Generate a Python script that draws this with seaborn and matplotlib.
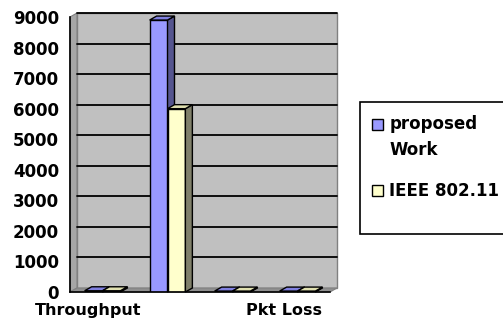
import matplotlib
matplotlib.use('Agg')
import matplotlib.pyplot as plt
import matplotlib.transforms as mtrans
from matplotlib.patches import Polygon, Rectangle
import seaborn as sns
import pandas as pd

# Values
categories = ['Throughput', 'Delay', 'PDR', 'Pkt Loss']
tick_labels = ['Throughput', '', '', 'Pkt Loss']
proposed = [40, 8900, 30, 30]
ieee = [40, 6000, 30, 30]
series = ['proposed\nWork', 'IEEE 802.11']
y_ticks = [0, 1000, 2000, 3000, 4000, 5000, 6000, 7000, 8000, 9000]

front_colors = ['#9999FF', '#FFFFCC']
side_colors = ['#55558F', '#80806A']
top_colors = ['#8080E0', '#E0E0B0']

df = pd.DataFrame({
    'category': categories * 2,
    'value': proposed + ieee,
    'series': [series[0]] * len(categories) + [series[1]] * len(categories),
})

sns.set_style('white')
plt.rcParams['font.family'] = ['DejaVu Sans']
plt.rcParams['text.color'] = 'black'
plt.rcParams['xtick.color'] = 'black'
plt.rcParams['ytick.color'] = 'black'
plt.rcParams['xtick.labelcolor'] = 'black'
plt.rcParams['ytick.labelcolor'] = 'black'

fig = plt.figure(figsize=(5.03, 3.30), dpi=100)
ax = fig.add_axes([70 / 503, 38 / 330, 260 / 503, 275 / 330])
ax.set_facecolor('none')

sns.barplot(data=df, x='category', y='value', hue='series', order=categories,
            hue_order=series, palette=front_colors, width=0.55,
            edgecolor='black', linewidth=1, saturation=1, ax=ax, legend=False)

ax.set_autoscale_on(False)
ax.set_xlim(-0.5, len(categories) - 0.5)
ax.set_ylim(0, 9000)

# depth of the fake 3D (pixels)
dx, dy = 7, 4
ident = mtrans.IdentityTransform()
fig.canvas.draw()
T = ax.transData.transform

x0, x1 = ax.get_xlim()
(fl, fb), (fr, ft) = T((x0, 0)), T((x1, 9000))

# back wall, side wall, floor
ax.add_patch(Polygon([(fl + dx, fb + dy), (fr + dx, fb + dy), (fr + dx, ft + dy), (fl + dx, ft + dy)],
                     closed=True, facecolor='#C0C0C0', edgecolor='#808080', lw=1,
                     transform=ident, clip_on=False, zorder=0.5))
ax.add_patch(Polygon([(fl, fb), (fl + dx, fb + dy), (fl + dx, ft + dy), (fl, ft)],
                     closed=True, facecolor='#A6A6A6', edgecolor='#808080', lw=0.8,
                     transform=ident, clip_on=False, zorder=0.6))
ax.add_patch(Polygon([(fl, fb), (fr, fb), (fr + dx, fb + dy), (fl + dx, fb + dy)],
                     closed=True, facecolor='#8F8F8F', edgecolor='#808080', lw=0.8,
                     transform=ident, clip_on=False, zorder=0.7))

# gridlines on the back wall
for yv in y_ticks[1:]:
    _, yy = T((0, yv))
    ax.plot([fl + dx, fr + dx], [yy + dy, yy + dy], color='black', lw=1.3,
            transform=ident, clip_on=False, zorder=1)

# 3D faces of the bars
for i, cont in enumerate(ax.containers):
    for bar in cont:
        bar.set_zorder(3 + i)
        bx, bw, bh = bar.get_x(), bar.get_width(), bar.get_height()
        (l, b), (r, t) = T((bx, 0)), T((bx + bw, bh))
        ax.add_patch(Polygon([(r, b), (r + dx, b + dy), (r + dx, t + dy), (r, t)],
                             closed=True, facecolor=side_colors[i], edgecolor='black',
                             lw=1, transform=ident, clip_on=False, zorder=3.1 + i))
        ax.add_patch(Polygon([(l, t), (r, t), (r + dx, t + dy), (l + dx, t + dy)],
                             closed=True, facecolor=top_colors[i], edgecolor='black',
                             lw=1, transform=ident, clip_on=False, zorder=3.2 + i))

# axes
for s in ['top', 'right']:
    ax.spines[s].set_visible(False)
for s in ['left', 'bottom']:
    ax.spines[s].set_color('black')
    ax.spines[s].set_linewidth(1.2)
    ax.spines[s].set_zorder(6)

ax.set_yticks(y_ticks)
ax.set_yticklabels([str(v) for v in y_ticks], fontsize=12, fontweight='bold')
ax.tick_params(axis='y', direction='out', length=6, width=1.2, color='black', pad=2)

ax.set_xticks([k - 0.5 for k in range(len(categories) + 1)])
ax.set_xticklabels([])
ax.tick_params(axis='x', which='major', direction='out', length=6, width=1.2, color='black')
ax.set_xticks(range(len(categories)), minor=True)
ax.set_xticklabels(tick_labels, minor=True, fontsize=11.5, fontweight='bold')
ax.tick_params(axis='x', which='minor', length=0, pad=8)
shift = mtrans.ScaledTranslation(-0.14, 0, fig.dpi_scale_trans)
for lab in ax.get_xticklabels(minor=True):
    lab.set_transform(lab.get_transform() + shift)

ax.set_xlabel('')
ax.set_ylabel('')

# legend
fig.patches.append(Rectangle((360 / 503, 96 / 330), 145 / 503, 132 / 330,
                             transform=fig.transFigure, facecolor='white',
                             edgecolor='black', lw=1.2, zorder=0))
handles = [Rectangle((0, 0), 1, 1, facecolor=c, edgecolor='black', lw=1) for c in front_colors]
leg = fig.legend(handles, series, loc='upper left', bbox_to_anchor=(365 / 503, 222 / 330),
                 frameon=False, prop={'weight': 'bold', 'size': 12}, handlelength=0.65,
                 handleheight=0.65, handletextpad=0.4, labelspacing=1.4, borderaxespad=0)
for txt in leg.get_texts():
    txt.set_linespacing(1.6)
    txt.set_color('black')
# put the first marker beside the first line of its two-line label
h0 = leg.legend_handles[0]
h0.set_y(h0.get_y() + 9.5)

fig.savefig('out.png', dpi=100, facecolor='white')
